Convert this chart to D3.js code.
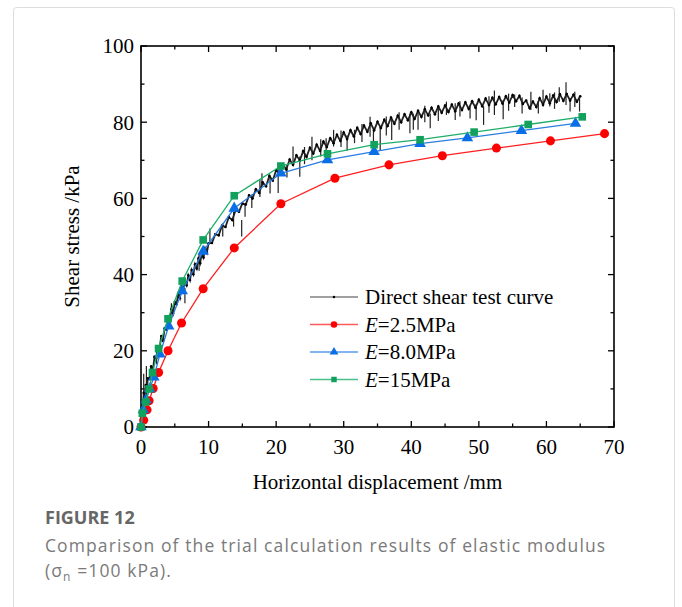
<!DOCTYPE html>
<html>
<head>
<meta charset="utf-8">
<script src="https://cdn.jsdelivr.net/npm/d3@7"></script>
<style>
  body { margin: 0; background: #fff; }
  svg { display: block; }
</style>
</head>
<body>
<div id="chart"></div>
<script>
// direct shear test curve, [displacement mm, stress kPa]
const testCurve = [
  [0, 0], [0.1, 3], [0.2, 6.5], [0.3, 5], [0.4, 9], [0.5, 7.5], [0.7, 11], [0.9, 10],
  [1.0, 12.8], [1.25, 12.6], [1.5, 15.9], [1.75, 14.7], [2.0, 18.4], [2.25, 18.0], [2.5, 20.9],
  [2.75, 20.6], [3.0, 23.9], [3.25, 22.6], [3.5, 25.9], [3.75, 25.6], [4.0, 28.4], [4.25, 27.8],
  [4.5, 30.9], [4.75, 29.8], [5.0, 32.8], [5.25, 32.2], [5.5, 34.9], [5.75, 33.8],
  [6.0, 36.7], [6.25, 35.6], [6.5, 38.2], [6.75, 37.2], [7.0, 39.8], [7.25, 38.6], [7.5, 41.2],
  [7.75, 40.1], [8.0, 42.7], [8.25, 41.6], [8.5, 44.2], [8.75, 43.0], [9.0, 45.6], [9.25, 44.5],
  [9.5, 46.9], [9.75, 45.8], [10.0, 48.2], [10.5, 48.3], [11, 50.6], [11.5, 50.3], [12, 52.9],
  [12.5, 52.5], [13, 55.1], [13.5, 54.3], [14, 56.9], [14.5, 56.5], [15, 58.7], [15.5, 58.4],
  [16, 60.8], [16.5, 60.0], [17, 62.4], [17.5, 61.4], [18, 64.2], [18.5, 63.2], [19, 65.9],
  [19.5, 64.7], [20, 67.4], [20.5, 66.4], [21, 68.9], [21.5, 67.6], [22, 70.2], [22.5, 68.8],
  [23, 71.3], [23.5, 70.0], [24, 72.4], [24.5, 70.9], [25, 73.3], [25.5, 71.8], [26, 74.1],
  [26.5, 72.5], [27, 74.9], [27.5, 73.5], [28, 75.8], [28.5, 74.5], [29, 76.7], [29.5, 75.1],
  [30, 77.3], [30.5, 75.6], [31, 77.9], [31.5, 76.3], [32, 78.5], [32.5, 76.9], [33, 79.1],
  [33.5, 77.5], [34, 79.7], [34.5, 77.9], [35, 80.1], [35.5, 78.5], [36, 80.6], [36.5, 79.0],
  [37, 81.2], [37.5, 79.6], [38, 81.7], [38.5, 80.0], [39, 82.1], [39.5, 80.5], [40, 82.6],
  [40.5, 80.9], [41, 83.0], [41.5, 81.4], [42, 83.4], [42.5, 81.8], [43, 83.8], [43.5, 82.1],
  [44, 84.1], [44.5, 82.5], [45, 84.4], [45.5, 82.7], [46, 84.6], [46.5, 82.9], [47, 84.9],
  [47.5, 83.2], [48, 85.2], [48.5, 83.5], [49, 85.5], [49.5, 83.8], [50, 85.9], [50.5, 84.2],
  [51, 86.2], [51.5, 84.5], [52, 86.4], [52.5, 84.7], [53, 86.6], [53.5, 84.9], [54, 86.8],
  [54.5, 85.2], [55, 87.1], [55.5, 85.5], [56, 86.9], [56.5, 84.8], [57, 85.7], [57.5, 83.7],
  [58, 85.4], [58.5, 84.0], [59, 86.3], [59.5, 84.6], [60, 86.7], [60.5, 85.0], [61, 87.0],
  [61.5, 85.3], [62, 87.3], [62.5, 85.6], [63, 87.4], [63.5, 85.7], [64, 87.2], [64.5, 85.4],
  [65, 86.8]
];

// noise spikes of the test record: [x, low, high]
const testSpikes = [
  [0.4, 2, 14], [0.8, 6, 16], [2.3, 16.5, 20.5], [4.5, 29.8, 32.5], [6.5, 32.5, 36.5],
  [8.6, 41, 45.5], [10.2, 48.2, 52.1], [12.1, 50, 53.5], [13.7, 52.6, 56.5], [14.9, 50, 54.3],
  [15.4, 55.2, 58.5], [16.4, 57.5, 61], [17.6, 60.4, 64.8], [17.9, 63, 66.6], [19.1, 61.3, 65.7],
  [20.3, 61.4, 69.3], [21.6, 65.5, 69], [22.5, 69.2, 73.6], [23.5, 65.7, 71], [24.2, 69, 73.5],
  [25.3, 70, 76.2], [26.6, 71, 75.5], [27.4, 71.5, 75.8], [28.5, 73.6, 78], [29.6, 73.5, 77.8],
  [30.5, 72.5, 76.5], [31.6, 74.5, 78], [32.7, 74.8, 79.5], [33.9, 76.2, 81.4], [34.4, 73.2, 78],
  [35.4, 72.7, 78.8], [36.3, 76.5, 81.5], [37.1, 75.3, 80.6], [38.2, 78, 82.6], [39.8, 77.1, 82.3],
  [40.3, 78, 82.3], [41.0, 78, 83.2], [42.0, 80, 84.3], [42.8, 78.4, 82.3], [44.0, 80.3, 84.5],
  [45.2, 81.9, 85.4], [46.5, 80.6, 85], [47.2, 81.5, 85.5], [48.7, 81, 84.5], [49.6, 80.5, 84.8],
  [50.7, 79.3, 84.1], [51.5, 82.5, 86.8], [52.3, 81.9, 88.3], [53.6, 80.8, 85.8], [54.4, 83, 87.5],
  [55.3, 84, 87.3], [56.4, 82.3, 86.5], [57.7, 83.2, 88], [58.8, 82.3, 85.5], [59.5, 84.1, 88.5],
  [60.5, 84.1, 87.6], [61.2, 83.5, 87.8], [61.9, 85.4, 89.2], [62.9, 84.5, 90.5], [63.5, 82.8, 86.3],
  [64.2, 84, 88], [64.9, 82.8, 86.3]
];

// trial calculation results
const e25 = [
  [0, 0], [0.4, 1.8], [0.9, 4.5], [1.2, 6.9], [1.8, 10.1], [2.6, 14.3], [4.0, 20.0], [6.0, 27.3],
  [9.2, 36.3], [13.8, 47.0], [20.7, 58.6], [28.7, 65.3], [36.7, 68.8], [44.6, 71.2], [52.6, 73.2],
  [60.6, 75.1], [68.6, 77.0]
];
const e80 = [
  [0, 0], [0.35, 4.5], [0.75, 7.1], [1.3, 10.0], [1.9, 13.1], [2.8, 19.1], [4.1, 26.5], [6.1, 35.7],
  [9.2, 46.1], [13.8, 57.4], [20.7, 66.6], [27.6, 70.1], [34.5, 72.3], [41.3, 74.4], [48.3, 75.9],
  [56.3, 77.8], [64.3, 79.7]
];
const e15 = [
  [0, 0], [0.2, 3.6], [0.7, 6.6], [1.2, 10.0], [1.7, 14.3], [2.6, 20.6], [4.0, 28.4], [6.1, 38.3],
  [9.2, 49.1], [13.8, 60.7], [20.7, 68.5], [27.6, 71.7], [34.5, 74.1], [41.3, 75.4], [49.3, 77.4],
  [57.3, 79.4], [65.3, 81.4]
];

const xTicks = [0, 10, 20, 30, 40, 50, 60, 70];
const yTicks = [0, 20, 40, 60, 80, 100];
const legendNames = ["Direct shear test curve", "=2.5MPa", "=8.0MPa", "=15MPa"];

const W = 682, H = 607;
const margin = { top: 46, left: 141, right: 68, bottom: 180 };
const width = W - margin.left - margin.right,
      height = H - margin.top - margin.bottom;

const svg = d3.select("#chart").append("svg")
  .attr("width", W).attr("height", H);

// frame of the figure panel
svg.append("rect")
  .attr("x", 13.5).attr("y", 7.5)
  .attr("width", 661).attr("height", 640)
  .attr("rx", 3)
  .attr("fill", "none").attr("stroke", "#dcdcdc");

const g = svg.append("g").attr("transform", `translate(${margin.left},${margin.top})`);

const x = d3.scaleLinear().domain([0, 70]).range([0, width]);
const y = d3.scaleLinear().domain([0, 100]).range([height, 0]);

const serif = "'Liberation Serif', 'Times New Roman', serif";
const fs = "21px";

// ticks, inside, all four sides
const xMinor = d3.range(0, 71, 5), yMinor = d3.range(0, 101, 10);
function tickLen(v, step) { return v % step === 0 ? 6 : 3.5; }
xMinor.forEach(v => {
  const L = tickLen(v, 10);
  g.append("line").attr("x1", x(v)).attr("x2", x(v)).attr("y1", height).attr("y2", height - L);
  g.append("line").attr("x1", x(v)).attr("x2", x(v)).attr("y1", 0).attr("y2", L);
});
yMinor.forEach(v => {
  const L = tickLen(v, 20);
  g.append("line").attr("y1", y(v)).attr("y2", y(v)).attr("x1", 0).attr("x2", L);
  g.append("line").attr("y1", y(v)).attr("y2", y(v)).attr("x1", width).attr("x2", width - L);
});
g.selectAll("line").attr("stroke", "#000").attr("stroke-width", 1.3);

g.append("rect").attr("width", width).attr("height", height)
  .attr("fill", "none").attr("stroke", "#000").attr("stroke-width", 1.6);

g.selectAll(".xl").data(xTicks).enter().append("text")
  .attr("x", d => x(d)).attr("y", height + 27)
  .attr("text-anchor", "middle")
  .style("font-family", serif).style("font-size", fs)
  .text(d => d);

g.selectAll(".yl").data(yTicks).enter().append("text")
  .attr("x", -7).attr("y", d => y(d)).attr("dy", "0.35em")
  .attr("text-anchor", "end")
  .style("font-family", serif).style("font-size", fs)
  .text(d => d);

g.append("text")
  .attr("x", width / 2).attr("y", height + 62)
  .attr("text-anchor", "middle")
  .style("font-family", serif).style("font-size", fs)
  .text("Horizontal displacement /mm");

g.append("text")
  .attr("transform", `translate(${-62},${height / 2}) rotate(-90)`)
  .attr("text-anchor", "middle")
  .style("font-family", serif).style("font-size", fs)
  .text("Shear stress /kPa");

// test curve
const line = d3.line().x(d => x(d[0])).y(d => y(d[1]));

g.selectAll(".spike").data(testSpikes).enter().append("line")
  .attr("x1", d => x(d[0])).attr("x2", d => x(d[0]))
  .attr("y1", d => y(d[1])).attr("y2", d => y(d[2]))
  .attr("stroke", "#222").attr("stroke-width", 1.2);

g.append("path").datum(testCurve)
  .attr("d", line).attr("fill", "none")
  .attr("stroke", "#222").attr("stroke-width", 1.8);

g.selectAll(".tdot").data(testCurve).enter().append("circle")
  .attr("cx", d => x(d[0])).attr("cy", d => y(d[1])).attr("r", 1.3)
  .attr("fill", "#000");

const series = [
  { data: e25, color: "#ff1f1f", mark: "#ff0000", sym: d3.symbolCircle, size: 64 },
  { data: e80, color: "#2a7de1", mark: "#0a6ee6", sym: d3.symbolTriangle, size: 58 },
  { data: e15, color: "#1fae6a", mark: "#12a15c", sym: d3.symbolSquare, size: 58 }
];

series.forEach(s => {
  g.append("path").datum(s.data)
    .attr("d", line).attr("fill", "none")
    .attr("stroke", s.color).attr("stroke-width", 1.3);
  g.selectAll(null).data(s.data).enter().append("path")
    .attr("d", d3.symbol().type(s.sym).size(s.size))
    .attr("transform", d => `translate(${x(d[0])},${y(d[1])})`)
    .attr("fill", s.mark);
});

// legend
const leg = g.append("g").attr("transform", `translate(${310 - margin.left},${297 - margin.top})`);
const legItems = [
  { color: "#808080", mark: "#000", sym: d3.symbolCircle, size: 5 },
  { color: "#ff5a5a", mark: "#ff0000", sym: d3.symbolCircle, size: 34 },
  { color: "#5a9be8", mark: "#0a6ee6", sym: d3.symbolTriangle, size: 34 },
  { color: "#4cc08a", mark: "#12a15c", sym: d3.symbolSquare, size: 30 }
];
legItems.forEach((it, i) => {
  const row = leg.append("g").attr("transform", `translate(0,${i * 27.5})`);
  row.append("line").attr("x1", 0).attr("x2", 48)
    .attr("stroke", it.color).attr("stroke-width", 1.3);
  row.append("path").attr("d", d3.symbol().type(it.sym).size(it.size))
    .attr("transform", "translate(24,0)").attr("fill", it.mark);
  const t = row.append("text").attr("x", 55).attr("dy", "0.35em")
    .style("font-family", serif).style("font-size", fs);
  if (i > 0) t.append("tspan").style("font-style", "italic").text("E");
  t.append("tspan").text(legendNames[i]);
});

// caption
const sans = "'Open Sans', 'Noto Sans', sans-serif";
svg.append("text").attr("x", 45).attr("y", 524)
  .style("font-family", sans).style("font-size", "18px").style("font-weight", "bold")
  .attr("fill", "#666").text("FIGURE 12");
svg.append("text").attr("x", 45).attr("y", 552)
  .style("font-family", sans).style("font-size", "17.5px").style("letter-spacing", "1.1px")
  .attr("fill", "#7a7a7a")
  .text("Comparison of the trial calculation results of elastic modulus");
const c2 = svg.append("text").attr("x", 45).attr("y", 577)
  .style("font-family", sans).style("font-size", "17.5px").style("letter-spacing", "1.1px")
  .attr("fill", "#7a7a7a");
c2.append("tspan").text("(σ");
c2.append("tspan").attr("dy", 4).style("font-size", "12px").text("n");
c2.append("tspan").attr("dy", -4).text(" =100 kPa).");
</script>
</body>
</html>
